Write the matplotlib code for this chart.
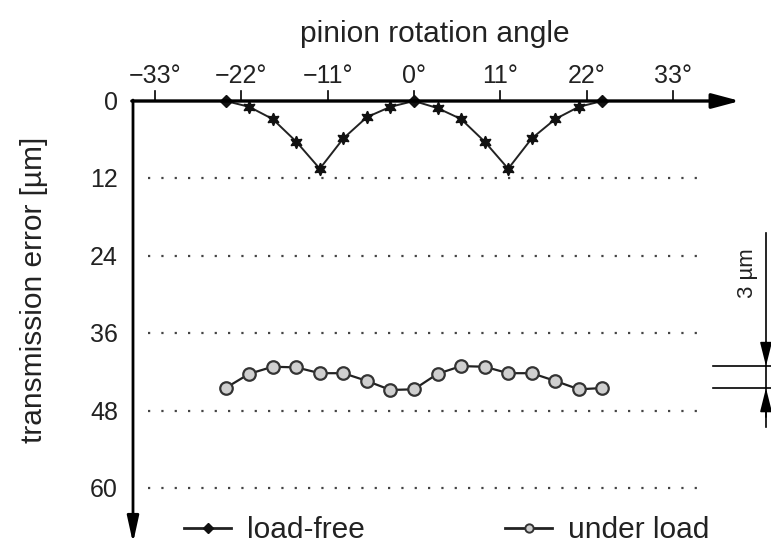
import matplotlib
matplotlib.use('Agg')
import matplotlib.pyplot as plt
from matplotlib.lines import Line2D

# ---- data ----
angles = [-24, -21, -18, -15, -12, -9, -6, -3, 0, 3, 6, 9, 12, 15, 18, 21, 24]
load_free = [0, 0.9, 2.8, 6.3, 10.5, 5.8, 2.5, 0.9, 0, 1.1, 2.8, 6.3, 10.5, 5.8, 2.8, 0.9, 0]
under_load = [44.5, 42.3, 41.2, 41.3, 42.2, 42.2, 43.4, 44.8, 44.7, 42.3, 41.1, 41.2, 42.2, 42.2, 43.4, 44.7, 44.5]
x_ticks = [-33, -22, -11, 0, 11, 22, 33]
x_ticklabels = ['\u221233°', '\u221222°', '\u221211°', '0°', '11°', '22°', '33°']
y_ticks = [0, 12, 24, 36, 48, 60]
y_ticklabels = ['0', '12', '24', '36', '48', '60']
band = [41.1, 44.5]  # 3 um band on right

plt.rcParams['font.family'] = ['Liberation Sans', 'DejaVu Sans']

W, H = 771, 545
fig = plt.figure(figsize=(W / 100, H / 100), dpi=100)
ax = fig.add_axes([0, 0, 1, 1])
x0px, xs = 414.0, 7.85
y0px, ys = 101.0, 6.45
ax.set_xlim(-x0px / xs, (W - x0px) / xs)
ax.set_ylim((H - y0px) / ys, -y0px / ys)
ax.axis('off')

def px_x(p):
    return (p - x0px) / xs

def px_y(p):
    return (p - y0px) / ys

TXT = '#222222'
xa = px_x(133)
# axes with arrows
ax.annotate('', xy=(px_x(740), 0), xytext=(xa - 0.15, 0),
            arrowprops=dict(arrowstyle='-|>,head_length=1.05,head_width=0.28', lw=2.4, color='black',
                            shrinkA=0, shrinkB=0, mutation_scale=16))
ax.annotate('', xy=(xa, px_y(543)), xytext=(xa, -0.15),
            arrowprops=dict(arrowstyle='-|>,head_length=1.0,head_width=0.22', lw=2.0, color='black',
                            shrinkA=0, shrinkB=0, mutation_scale=16))

# x ticks
for t, lab in zip(x_ticks, x_ticklabels):
    ax.plot([t, t], [0, px_y(91)], color='black', lw=1.2)
    ax.text(t, px_y(83), lab, ha='center', va='baseline', fontsize=18, color=TXT)

# y ticks and dotted grid
for v, lab in zip(y_ticks, y_ticklabels):
    ax.text(px_x(118), v + 9 / ys, lab, ha='right', va='baseline', fontsize=18, color=TXT)
    if v != 0:
        ax.plot([px_x(148), px_x(697)], [v, v], color='#444444', lw=1.6,
                linestyle=(0, (1, 5)))

ax.text(px_x(435), px_y(42), 'pinion rotation angle', ha='center', va='baseline', fontsize=21.5,
        color=TXT)
ax.text(px_x(34), px_y(290), 'transmission error [µm]', ha='center', va='center',
        fontsize=21.5, rotation=90, color=TXT)

# data
zero_idx = [i for i, v in enumerate(load_free) if v == 0]
star_idx = [i for i, v in enumerate(load_free) if v != 0]
ax.plot(angles, load_free, color='#222222', lw=1.4, marker=(6, 1, 0), markersize=9,
        markerfacecolor='#111111', markeredgecolor='#111111', markevery=star_idx)
ax.plot(angles, load_free, linestyle='none', marker='D', markersize=6,
        markerfacecolor='#111111', markeredgecolor='#111111', markevery=zero_idx)
ax.plot(angles, under_load, color='#222222', lw=1.6, marker='o', markersize=9,
        markerfacecolor='#cfcfcf', markeredgecolor='#333333', markeredgewidth=1.6)

# 3 um scale bar
xb = px_x(766)
ax.plot([xb, xb], [px_y(233), px_y(427)], color='black', lw=1.2)
for v in band:
    ax.plot([px_x(713), px_x(771)], [v, v], color='black', lw=1.2)
ax.annotate('', xy=(xb, band[0]), xytext=(xb, band[0] - 3.7),
            arrowprops=dict(arrowstyle='-|>,head_length=1.2,head_width=0.3', lw=1.2,
                            color='black', shrinkA=0, shrinkB=0, mutation_scale=12))
ax.annotate('', xy=(xb, band[1]), xytext=(xb, band[1] + 4.5),
            arrowprops=dict(arrowstyle='-|>,head_length=1.2,head_width=0.3', lw=1.2,
                            color='black', shrinkA=0, shrinkB=0, mutation_scale=12))
ax.text(px_x(747), px_y(273), '3 µm', ha='center', va='center', fontsize=16, rotation=90,
        color=TXT)

# legend
handles = [Line2D([], [], color='#222222', lw=2.0, marker='D', markersize=5,
                  markerfacecolor='#111111', markeredgecolor='#111111'),
           Line2D([], [], color='#222222', lw=2.0, marker='o', markersize=6,
                  markerfacecolor='#cfcfcf', markeredgecolor='#333333', markeredgewidth=1.4)]
leg = fig.legend(handles, ['load-free', 'under load'], ncol=2, frameon=False, loc='center',
                 bbox_to_anchor=(447 / W, 1 - 530 / H), fontsize=21.5, columnspacing=4.7,
                 handlelength=1.55, handletextpad=0.55, borderpad=0)
for t in leg.get_texts():
    t.set_color(TXT)

fig.savefig('out.png', dpi=100)
